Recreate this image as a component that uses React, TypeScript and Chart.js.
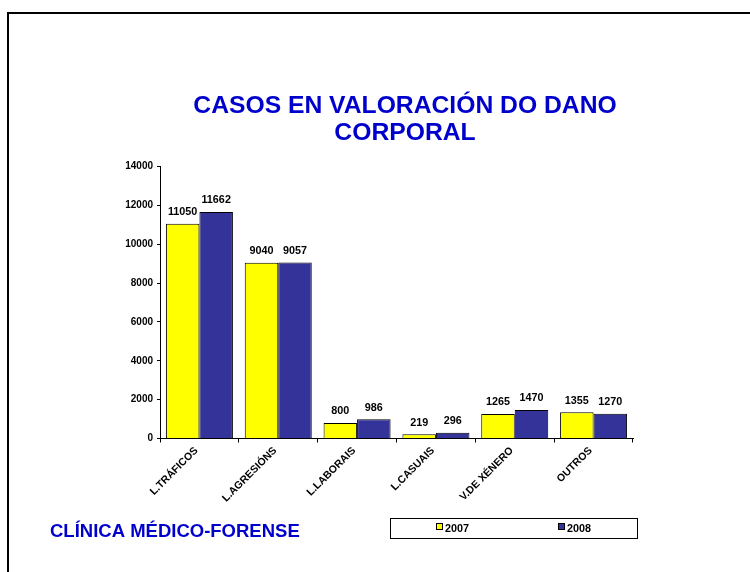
import React, { useEffect, useRef } from "react";
import { Chart, registerables } from "chart.js";

Chart.register(...registerables);

const categories = ["L.TRÁFICOS", "L.AGRESIÓNS", "L.LABORAIS", "L.CASUAIS", "V.DE XÉNERO", "OUTROS"];
const series2007 = [11050, 9040, 800, 219, 1265, 1355];
const series2008 = [11662, 9057, 986, 296, 1470, 1270];
const seriesNames = ["2007", "2008"];
const titleLines = ["CASOS EN VALORACIÓN DO DANO", "CORPORAL"];
const footerText = "CLÍNICA MÉDICO-FORENSE";

const FONT = '"Liberation Sans", Arial, sans-serif';
const YELLOW = "#FFFF00";
const BLUE = "#333399";
const TITLE_BLUE = "rgb(0,0,204)";

const decorPlugin = {
  id: "decor",
  beforeDraw(chart: any) {
    const ctx = chart.ctx;
    ctx.save();
    ctx.fillStyle = "#ffffff";
    ctx.fillRect(0, 0, chart.width, chart.height);
    ctx.strokeStyle = "#000";
    ctx.lineWidth = 2;
    ctx.beginPath();
    ctx.moveTo(8, chart.height);
    ctx.lineTo(8, 13);
    ctx.lineTo(chart.width, 13);
    ctx.stroke();
    ctx.restore();
  },
  afterDraw(chart: any) {
    const ctx = chart.ctx;
    ctx.save();
    // title
    ctx.fillStyle = TITLE_BLUE;
    ctx.font = `bold 24.7px ${FONT}`;
    ctx.textAlign = "center";
    ctx.textBaseline = "alphabetic";
    ctx.fillText(titleLines[0], 405, 113);
    ctx.fillText(titleLines[1], 405, 140);
    // footer
    ctx.textAlign = "left";
    ctx.font = `bold 18.5px ${FONT}`;
    ctx.fillText(footerText, 50, 537);
    // legend
    ctx.strokeStyle = "#000";
    ctx.lineWidth = 1;
    ctx.fillStyle = "#fff";
    ctx.fillRect(390.5, 518.5, 247, 20);
    ctx.strokeRect(390.5, 518.5, 247, 20);
    const items = [
      { x: 436, color: YELLOW, label: seriesNames[0] },
      { x: 558, color: BLUE, label: seriesNames[1] },
    ];
    ctx.font = `bold 10.8px ${FONT}`;
    ctx.textBaseline = "alphabetic";
    items.forEach((it) => {
      ctx.fillStyle = it.color;
      ctx.fillRect(it.x + 0.5, 523.5, 6, 6);
      ctx.strokeRect(it.x + 0.5, 523.5, 6, 6);
      ctx.fillStyle = "#000";
      ctx.fillText(it.label, it.x + 9, 531.5);
    });
    ctx.restore();
  },
  afterDatasetsDraw(chart: any) {
    const ctx = chart.ctx;
    ctx.save();
    ctx.fillStyle = "#000";
    ctx.font = `bold 10.8px ${FONT}`;
    ctx.textAlign = "center";
    ctx.textBaseline = "alphabetic";
    chart.data.datasets.forEach((ds: any, di: number) => {
      const meta = chart.getDatasetMeta(di);
      meta.data.forEach((bar: any, i: number) => {
        ctx.fillText(String(ds.data[i]), bar.x, bar.y - 8.5);
      });
    });
    ctx.restore();
  },
};

export default function App() {
  const ref = useRef<HTMLCanvasElement | null>(null);
  useEffect(() => {
    document.body.style.margin = "0";
    const canvas = ref.current;
    if (!canvas) return;
    const chart = new Chart(canvas, {
      type: "bar",
      data: {
        labels: categories,
        datasets: [
          {
            label: seriesNames[0],
            data: series2007,
            backgroundColor: YELLOW,
            borderColor: "#000",
            borderWidth: 1,
            categoryPercentage: 0.85,
            barPercentage: 1,
          },
          {
            label: seriesNames[1],
            data: series2008,
            backgroundColor: BLUE,
            borderColor: "#000",
            borderWidth: 1,
            categoryPercentage: 0.85,
            barPercentage: 1,
          },
        ],
      },
      options: {
        responsive: false,
        animation: false,
        devicePixelRatio: 1,
        layout: { padding: { left: 0, right: 117, top: 166.5, bottom: 0 } },
        plugins: {
          legend: { display: false },
          title: { display: false },
          tooltip: { enabled: false },
        },
        scales: {
          x: {
            offset: true,
            grid: {
              offset: true,
              drawOnChartArea: false,
              drawTicks: true,
              tickLength: 4,
              color: "#000",
            },
            border: { color: "#000", width: 1 },
            ticks: {
              color: "#000",
              font: { family: FONT, size: 10.5, weight: "bold" },
              minRotation: 45,
              maxRotation: 45,
              autoSkip: false,
              padding: 2,
              labelOffset: -3,
            },
            afterFit(scale: any) {
              scale.height = 572 - 438.5;
            },
          },
          y: {
            min: 0,
            max: 14000,
            ticks: {
              stepSize: 2000,
              color: "#000",
              font: { family: FONT, size: 10, weight: "bold" },
              padding: 4,
              callback: (v: any) => String(v),
            },
            grid: {
              drawOnChartArea: false,
              drawTicks: true,
              tickLength: 3,
              color: "#000",
            },
            border: { color: "#000", width: 1 },
            afterFit(scale: any) {
              scale.width = 160;
            },
          },
        },
      },
      plugins: [decorPlugin],
    });
    return () => chart.destroy();
  }, []);
  return (
    <div style={{ position: "absolute", left: 0, top: 0, width: 750, height: 572 }}>
      <canvas ref={ref} width={750} height={572} style={{ width: 750, height: 572, display: "block" }} />
    </div>
  );
}
